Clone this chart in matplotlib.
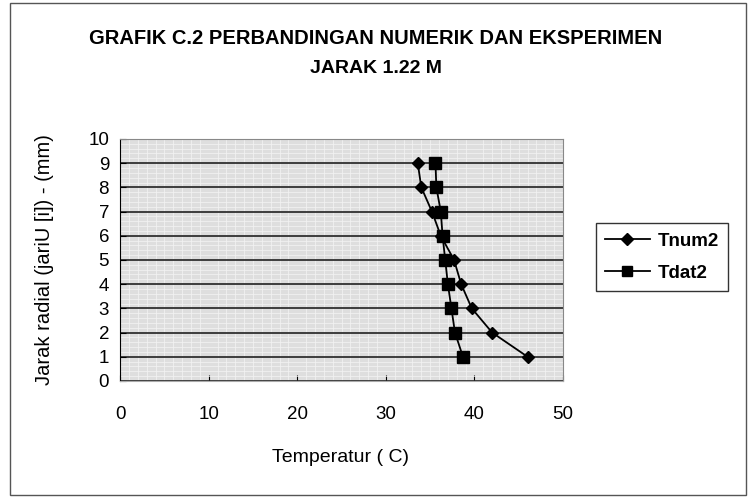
import matplotlib.pyplot as plt
from matplotlib.patches import Rectangle

# data
jarak = [1, 2, 3, 4, 5, 6, 7, 8, 9]
tnum2 = [46.0, 42.0, 39.7, 38.5, 37.7, 36.2, 35.2, 34.0, 33.6]
tdat2 = [38.7, 37.8, 37.4, 37.0, 36.7, 36.4, 36.2, 35.7, 35.6]

plt.rcParams['font.family'] = ['Liberation Sans', 'DejaVu Sans']

fig = plt.figure(figsize=(7.51, 4.99), dpi=100)
fig.patches.append(Rectangle((0.013, 0.008), 0.98, 0.985, transform=fig.transFigure,
                             fill=False, edgecolor='#555555', linewidth=1.0))

ax = fig.add_axes([0.16, 0.2365, 0.5897, 0.485])
ax.set_facecolor('#dedede')

ax.plot(tnum2, jarak, color='black', marker='D', markersize=6.5, linewidth=1.3, label='Tnum2')
ax.plot(tdat2, jarak, color='black', marker='s', markersize=8, linewidth=1.3, label='Tdat2')

ax.set_xlim(0, 50)
ax.set_ylim(0, 10)
ax.set_xticks(range(0, 51, 10))
ax.set_yticks(range(0, 11))
ax.set_xticks(range(0, 51, 1), minor=True)
ax.set_yticks([i / 5 for i in range(51)], minor=True)
ax.grid(True, which='minor', color='#f4f4f4', linewidth=0.5)
ax.grid(True, which='major', axis='y', color='#222222', linewidth=1.2)
ax.set_axisbelow(True)
ax.tick_params(which='minor', length=0)
ax.tick_params(axis='both', which='major', labelsize=13.5, direction='in', length=4)
ax.tick_params(axis='x', pad=18)
ax.tick_params(axis='y', pad=8)
for s in ax.spines.values():
    s.set_color('#888888')
ax.spines['left'].set_color('black')
ax.spines['bottom'].set_color('#aaaaaa')

ax.set_xlabel('Temperatur ( C)', fontsize=14)
ax.set_ylabel('Jarak radial (jariU [i]) - (mm)', fontsize=14.5)
ax.xaxis.set_label_coords(0.498, -0.28)
ax.yaxis.set_label_coords(-0.15, 0.5)

fig.text(0.5, 0.922, 'GRAFIK C.2 PERBANDINGAN NUMERIK DAN EKSPERIMEN',
         ha='center', va='center', fontsize=14.5, fontweight='bold')
fig.text(0.5, 0.863, 'JARAK 1.22 M', ha='center', va='center', fontsize=14, fontweight='bold')

leg = fig.legend(loc='upper left', bbox_to_anchor=(0.793, 0.553), fontsize=13.5,
                 frameon=True, fancybox=False, edgecolor='black', handlelength=2.4,
                 borderpad=0.5, labelspacing=0.8, markerscale=0.9, handletextpad=0.4,
                 borderaxespad=0)
for t in leg.get_texts():
    t.set_fontweight('bold')

fig.savefig('out.png', dpi=100)
